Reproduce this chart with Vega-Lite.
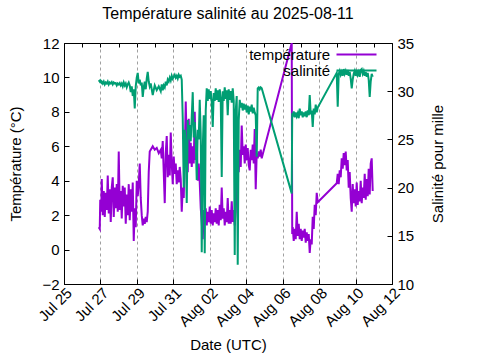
{
"$schema": "https://vega.github.io/schema/vega-lite/v6.json",
"width": 328, "height": 241,
"autosize": "none",
"padding": {"left": 64, "top": 43, "right": 88, "bottom": 76},
"background": "white",
"title": {"text": "Température salinité au 2025-08-11", "font": "Liberation Sans", "fontSize": 16, "fontWeight": "normal", "color": "black", "anchor": "middle", "offset": 14},
"config": {
  "view": {"stroke": "black", "strokeWidth": 1},
  "font": "Liberation Sans",
  "axis": {"labelFont": "Liberation Sans", "labelFontSize": 15, "titleFont": "Liberation Sans", "titleFontSize": 15, "titleFontWeight": "normal", "labelColor": "black", "titleColor": "black", "tickColor": "black", "domainColor": "black", "grid": false},
  "legend": {"labelFont": "Liberation Sans", "labelFontSize": 15, "labelColor": "black"}
},
"data": {"values": [
{"t":"2025-07-26T21:46","temp":1.3,"sal":31.15},
{"t":"2025-07-26T23:05","temp":1.2,"sal":31.0},
{"t":"2025-07-26T23:44","temp":2.9,"sal":31.1},
{"t":"2025-07-27T01:03","temp":2.2,"sal":30.9},
{"t":"2025-07-27T01:43","temp":4.1,"sal":31.0},
{"t":"2025-07-27T03:02","temp":2.0,"sal":30.8},
{"t":"2025-07-27T04:21","temp":3.4,"sal":31.0},
{"t":"2025-07-27T05:40","temp":1.9,"sal":30.7},
{"t":"2025-07-27T06:59","temp":3.3,"sal":30.9},
{"t":"2025-07-27T08:18","temp":2.3,"sal":30.8},
{"t":"2025-07-27T09:37","temp":4.3,"sal":31.0},
{"t":"2025-07-27T10:56","temp":2.1,"sal":30.7},
{"t":"2025-07-27T12:15","temp":3.5,"sal":30.9},
{"t":"2025-07-27T13:34","temp":1.6,"sal":30.8},
{"t":"2025-07-27T14:53","temp":3.6,"sal":30.95},
{"t":"2025-07-27T16:12","temp":4.2,"sal":30.7},
{"t":"2025-07-27T17:31","temp":1.9,"sal":30.9},
{"t":"2025-07-27T18:50","temp":3.6,"sal":30.8},
{"t":"2025-07-27T20:09","temp":2.4,"sal":30.85},
{"t":"2025-07-27T21:28","temp":3.8,"sal":30.6},
{"t":"2025-07-27T22:47","temp":2.2,"sal":30.8},
{"t":"2025-07-28T00:06","temp":5.7,"sal":30.7},
{"t":"2025-07-28T01:25","temp":2.3,"sal":30.85},
{"t":"2025-07-28T02:44","temp":3.4,"sal":30.6},
{"t":"2025-07-28T04:03","temp":1.8,"sal":30.8},
{"t":"2025-07-28T05:22","temp":3.7,"sal":30.5},
{"t":"2025-07-28T06:41","temp":2.5,"sal":30.9},
{"t":"2025-07-28T08:00","temp":3.6,"sal":30.6},
{"t":"2025-07-28T09:19","temp":1.5,"sal":30.8},
{"t":"2025-07-28T10:38","temp":3.2,"sal":30.4},
{"t":"2025-07-28T11:57","temp":2.0,"sal":30.7},
{"t":"2025-07-28T13:16","temp":3.8,"sal":30.9},
{"t":"2025-07-28T14:35","temp":1.7,"sal":30.6},
{"t":"2025-07-28T15:54","temp":3.5,"sal":29.9},
{"t":"2025-07-28T17:13","temp":2.2,"sal":30.5},
{"t":"2025-07-28T18:32","temp":3.9,"sal":29.5},
{"t":"2025-07-28T19:51","temp":0.5,"sal":30.2},
{"t":"2025-07-28T21:10","temp":2.4,"sal":28.2},
{"t":"2025-07-28T22:29","temp":1.3,"sal":30.5},
{"t":"2025-07-28T23:48","temp":4.0,"sal":31.4},
{"t":"2025-07-29T01:07","temp":3.1,"sal":31.9},
{"t":"2025-07-29T02:26","temp":3.8,"sal":30.8},
{"t":"2025-07-29T03:45","temp":5.0,"sal":31.2},
{"t":"2025-07-29T05:04","temp":3.0,"sal":30.6},
{"t":"2025-07-29T06:23","temp":2.0,"sal":30.9},
{"t":"2025-07-29T07:42","temp":1.4,"sal":29.4},
{"t":"2025-07-29T09:01","temp":1.8,"sal":30.4},
{"t":"2025-07-29T10:20","temp":1.5,"sal":31.0},
{"t":"2025-07-29T11:39","temp":1.9,"sal":30.2},
{"t":"2025-07-29T12:58","temp":1.6,"sal":31.3},
{"t":"2025-07-29T14:17","temp":2.2,"sal":32.0},
{"t":"2025-07-29T15:36","temp":4.5,"sal":31.0},
{"t":"2025-07-29T16:55","temp":5.7,"sal":30.5},
{"t":"2025-07-29T18:14","temp":5.8,"sal":30.8},
{"t":"2025-07-29T20:52","temp":6.0,"sal":29.6},
{"t":"2025-07-29T23:30","temp":5.8,"sal":30.6},
{"t":"2025-07-30T02:08","temp":5.9,"sal":30.1},
{"t":"2025-07-30T04:47","temp":5.6,"sal":30.5},
{"t":"2025-07-30T07:25","temp":5.8,"sal":30.0},
{"t":"2025-07-30T08:44","temp":5.3,"sal":30.7},
{"t":"2025-07-30T10:03","temp":6.3,"sal":30.1},
{"t":"2025-07-30T11:22","temp":4.5,"sal":30.6},
{"t":"2025-07-30T12:41","temp":2.7,"sal":30.4},
{"t":"2025-07-30T14:00","temp":5.6,"sal":31.0},
{"t":"2025-07-30T15:19","temp":6.6,"sal":30.6},
{"t":"2025-07-30T16:38","temp":4.2,"sal":31.2},
{"t":"2025-07-30T17:57","temp":5.5,"sal":31.0},
{"t":"2025-07-30T19:16","temp":4.3,"sal":31.4},
{"t":"2025-07-30T20:35","temp":6.8,"sal":31.1},
{"t":"2025-07-30T21:54","temp":5.0,"sal":31.6},
{"t":"2025-07-30T23:13","temp":3.8,"sal":31.3},
{"t":"2025-07-31T00:32","temp":5.4,"sal":31.5},
{"t":"2025-07-31T01:51","temp":4.4,"sal":31.7},
{"t":"2025-07-31T03:10","temp":5.0,"sal":31.4},
{"t":"2025-07-31T04:29","temp":3.8,"sal":31.6},
{"t":"2025-07-31T05:48","temp":4.6,"sal":31.3},
{"t":"2025-07-31T07:07","temp":3.9,"sal":31.7},
{"t":"2025-07-31T08:26","temp":4.8,"sal":31.5},
{"t":"2025-07-31T09:45","temp":4.1,"sal":31.6},
{"t":"2025-07-31T11:04","temp":2.2,"sal":31.2},
{"t":"2025-07-31T12:23","temp":3.6,"sal":27.2},
{"t":"2025-07-31T13:42","temp":3.0,"sal":20.0},
{"t":"2025-07-31T15:01","temp":5.5,"sal":26.0},
{"t":"2025-07-31T16:20","temp":8.6,"sal":24.5},
{"t":"2025-07-31T17:39","temp":6.0,"sal":18.4},
{"t":"2025-07-31T18:58","temp":4.5,"sal":27.0},
{"t":"2025-07-31T20:17","temp":7.6,"sal":25.0},
{"t":"2025-07-31T21:36","temp":5.0,"sal":26.5},
{"t":"2025-07-31T22:55","temp":6.2,"sal":24.8},
{"t":"2025-08-01T00:14","temp":4.8,"sal":27.3},
{"t":"2025-08-01T01:33","temp":6.0,"sal":29.9},
{"t":"2025-08-01T02:52","temp":5.0,"sal":25.2},
{"t":"2025-08-01T04:11","temp":8.0,"sal":26.8},
{"t":"2025-08-01T05:30","temp":5.2,"sal":24.9},
{"t":"2025-08-01T06:49","temp":6.3,"sal":20.8},
{"t":"2025-08-01T08:08","temp":4.0,"sal":26.0},
{"t":"2025-08-01T09:27","temp":5.0,"sal":25.0},
{"t":"2025-08-01T10:46","temp":3.9,"sal":29.1},
{"t":"2025-08-01T12:05","temp":2.4,"sal":25.5},
{"t":"2025-08-01T13:24","temp":1.6,"sal":13.3},
{"t":"2025-08-01T14:43","temp":0.6,"sal":24.0},
{"t":"2025-08-01T16:02","temp":2.3,"sal":27.5},
{"t":"2025-08-01T17:21","temp":1.5,"sal":13.2},
{"t":"2025-08-01T18:40","temp":2.4,"sal":28.0},
{"t":"2025-08-01T19:59","temp":1.4,"sal":30.3},
{"t":"2025-08-01T21:18","temp":2.2,"sal":29.0},
{"t":"2025-08-01T22:37","temp":1.6,"sal":30.2},
{"t":"2025-08-01T23:56","temp":2.5,"sal":29.2},
{"t":"2025-08-02T01:15","temp":1.5,"sal":30.0},
{"t":"2025-08-02T02:34","temp":2.3,"sal":28.9},
{"t":"2025-08-02T03:53","temp":1.4,"sal":26.3},
{"t":"2025-08-02T05:12","temp":2.1,"sal":29.8},
{"t":"2025-08-02T06:31","temp":1.6,"sal":29.0},
{"t":"2025-08-02T07:50","temp":2.4,"sal":30.3},
{"t":"2025-08-02T09:09","temp":1.5,"sal":29.1},
{"t":"2025-08-02T10:28","temp":2.3,"sal":30.1},
{"t":"2025-08-02T11:47","temp":1.4,"sal":28.9},
{"t":"2025-08-02T13:06","temp":2.6,"sal":30.2},
{"t":"2025-08-02T14:25","temp":1.7,"sal":29.3},
{"t":"2025-08-02T15:44","temp":3.6,"sal":21.1},
{"t":"2025-08-02T17:03","temp":1.8,"sal":30.0},
{"t":"2025-08-02T18:22","temp":2.4,"sal":29.0},
{"t":"2025-08-02T19:41","temp":1.4,"sal":30.4},
{"t":"2025-08-02T21:00","temp":2.2,"sal":29.2},
{"t":"2025-08-02T22:19","temp":1.6,"sal":30.1},
{"t":"2025-08-02T23:38","temp":3.0,"sal":27.5},
{"t":"2025-08-03T00:57","temp":1.5,"sal":30.2},
{"t":"2025-08-03T02:16","temp":2.3,"sal":29.1},
{"t":"2025-08-03T03:35","temp":1.5,"sal":30.0},
{"t":"2025-08-03T04:54","temp":2.8,"sal":28.8},
{"t":"2025-08-03T06:13","temp":1.6,"sal":30.3},
{"t":"2025-08-03T07:32","temp":2.3,"sal":29.0},
{"t":"2025-08-03T08:51","temp":1.4,"sal":13.0},
{"t":"2025-08-03T10:10","temp":2.2,"sal":28.0},
{"t":"2025-08-03T11:29","temp":3.8,"sal":29.5},
{"t":"2025-08-03T12:48","temp":5.4,"sal":12.0},
{"t":"2025-08-03T14:07","temp":4.5,"sal":27.0},
{"t":"2025-08-03T15:26","temp":5.8,"sal":29.1},
{"t":"2025-08-03T16:45","temp":4.8,"sal":28.3},
{"t":"2025-08-03T18:04","temp":7.2,"sal":28.8},
{"t":"2025-08-03T19:23","temp":5.5,"sal":28.0},
{"t":"2025-08-03T20:42","temp":6.0,"sal":28.7},
{"t":"2025-08-03T22:01","temp":5.0,"sal":28.1},
{"t":"2025-08-03T23:20","temp":6.1,"sal":28.6},
{"t":"2025-08-04T00:39","temp":5.2,"sal":27.8},
{"t":"2025-08-04T01:58","temp":5.9,"sal":28.5},
{"t":"2025-08-04T03:17","temp":4.9,"sal":27.6},
{"t":"2025-08-04T04:36","temp":4.6,"sal":28.4},
{"t":"2025-08-04T05:55","temp":5.8,"sal":27.9},
{"t":"2025-08-04T07:14","temp":5.2,"sal":28.6},
{"t":"2025-08-04T08:33","temp":6.1,"sal":27.7},
{"t":"2025-08-04T09:52","temp":5.0,"sal":28.3},
{"t":"2025-08-04T11:11","temp":7.0,"sal":27.8},
{"t":"2025-08-04T12:30","temp":3.5,"sal":27.5},
{"t":"2025-08-04T13:49","temp":5.6,"sal":23.2},
{"t":"2025-08-04T15:08","temp":5.3,"sal":30.3},
{"t":"2025-08-04T16:27","temp":5.7,"sal":30.4},
{"t":"2025-08-04T17:46","temp":5.4,"sal":30.2},
{"t":"2025-08-04T19:05","temp":5.8,"sal":30.4},
{"t":"2025-08-04T20:24","temp":5.3,"sal":30.3},
{"t":"2025-08-06T11:55","temp":12.0,"sal":19.4},
{"t":"2025-08-06T12:35","temp":0.9,"sal":27.7},
{"t":"2025-08-06T13:15","temp":1.3,"sal":27.5},
{"t":"2025-08-06T14:34","temp":0.5,"sal":27.9},
{"t":"2025-08-06T15:53","temp":1.2,"sal":27.3},
{"t":"2025-08-06T17:12","temp":0.6,"sal":27.8},
{"t":"2025-08-06T18:31","temp":2.2,"sal":27.4},
{"t":"2025-08-06T19:50","temp":0.8,"sal":27.7},
{"t":"2025-08-06T21:09","temp":1.5,"sal":27.2},
{"t":"2025-08-06T22:28","temp":0.6,"sal":28.2},
{"t":"2025-08-06T23:47","temp":1.2,"sal":27.5},
{"t":"2025-08-07T01:06","temp":0.5,"sal":27.9},
{"t":"2025-08-07T02:25","temp":1.1,"sal":27.3},
{"t":"2025-08-07T03:44","temp":0.7,"sal":27.8},
{"t":"2025-08-07T05:03","temp":1.2,"sal":27.4},
{"t":"2025-08-07T06:22","temp":0.4,"sal":27.9},
{"t":"2025-08-07T07:41","temp":1.0,"sal":27.3},
{"t":"2025-08-07T09:00","temp":0.5,"sal":28.0},
{"t":"2025-08-07T10:19","temp":0.9,"sal":27.5},
{"t":"2025-08-07T11:38","temp":-0.2,"sal":29.6},
{"t":"2025-08-07T12:57","temp":0.6,"sal":27.6},
{"t":"2025-08-07T14:16","temp":0.3,"sal":28.0},
{"t":"2025-08-07T15:35","temp":1.9,"sal":26.3},
{"t":"2025-08-07T16:54","temp":1.2,"sal":28.2},
{"t":"2025-08-07T18:13","temp":2.6,"sal":27.6},
{"t":"2025-08-07T19:32","temp":2.0,"sal":28.6},
{"t":"2025-08-07T20:51","temp":3.3,"sal":27.8},
{"t":"2025-08-07T22:10","temp":2.75,"sal":28.3},
{"t":"2025-08-08T23:11","temp":3.85,"sal":31.9},
{"t":"2025-08-09T00:30","temp":4.4,"sal":28.4},
{"t":"2025-08-09T01:49","temp":3.8,"sal":31.8},
{"t":"2025-08-09T03:08","temp":4.6,"sal":32.1},
{"t":"2025-08-09T04:27","temp":4.2,"sal":31.7},
{"t":"2025-08-09T05:46","temp":5.3,"sal":32.0},
{"t":"2025-08-09T07:05","temp":4.7,"sal":31.6},
{"t":"2025-08-09T08:24","temp":5.6,"sal":32.3},
{"t":"2025-08-09T09:43","temp":4.9,"sal":31.8},
{"t":"2025-08-09T11:02","temp":5.7,"sal":32.1},
{"t":"2025-08-09T12:21","temp":4.6,"sal":31.7},
{"t":"2025-08-09T13:40","temp":5.2,"sal":32.2},
{"t":"2025-08-09T14:59","temp":3.6,"sal":31.6},
{"t":"2025-08-09T16:18","temp":4.5,"sal":32.0},
{"t":"2025-08-09T17:37","temp":3.0,"sal":31.3},
{"t":"2025-08-09T18:56","temp":2.2,"sal":30.3},
{"t":"2025-08-09T20:15","temp":3.8,"sal":31.2},
{"t":"2025-08-09T21:34","temp":2.7,"sal":31.8},
{"t":"2025-08-09T22:53","temp":3.5,"sal":32.1},
{"t":"2025-08-10T00:12","temp":2.5,"sal":31.6},
{"t":"2025-08-10T01:31","temp":3.9,"sal":32.2},
{"t":"2025-08-10T02:50","temp":2.6,"sal":31.7},
{"t":"2025-08-10T04:09","temp":3.4,"sal":32.0},
{"t":"2025-08-10T05:28","temp":2.8,"sal":31.5},
{"t":"2025-08-10T06:47","temp":4.0,"sal":32.2},
{"t":"2025-08-10T08:06","temp":2.7,"sal":32.3},
{"t":"2025-08-10T09:25","temp":3.6,"sal":31.8},
{"t":"2025-08-10T10:44","temp":3.0,"sal":32.1},
{"t":"2025-08-10T12:03","temp":4.4,"sal":31.6},
{"t":"2025-08-10T13:22","temp":2.9,"sal":32.0},
{"t":"2025-08-10T14:41","temp":4.1,"sal":31.5},
{"t":"2025-08-10T16:00","temp":3.1,"sal":31.9},
{"t":"2025-08-10T17:19","temp":4.7,"sal":31.2},
{"t":"2025-08-10T18:38","temp":3.2,"sal":29.4},
{"t":"2025-08-10T19:57","temp":5.0,"sal":31.0},
{"t":"2025-08-10T21:16","temp":5.3,"sal":31.8},
{"t":"2025-08-10T22:35","temp":3.4,"sal":31.5}
]},
"layer": [
  {
    "mark": {"type": "line", "strokeWidth": 2, "clip": true, "interpolate": "linear"},
    "encoding": {
      "x": {"field": "t", "type": "temporal",
        "scale": {"domain": [{"year": 2025, "month": 7, "date": 25}, {"year": 2025, "month": 8, "date": 12}]},
        "axis": {"orient": "bottom", "title": "Date (UTC)", "format": "%b %d", "labelAngle": -45, "labelOverlap": false, "labelPadding": 6, "tickSize": -5, "titlePadding": 8,
          "values": [{"year":2025,"month":7,"date":25},{"year":2025,"month":7,"date":27},{"year":2025,"month":7,"date":29},{"year":2025,"month":7,"date":31},{"year":2025,"month":8,"date":2},{"year":2025,"month":8,"date":4},{"year":2025,"month":8,"date":6},{"year":2025,"month":8,"date":8},{"year":2025,"month":8,"date":10},{"year":2025,"month":8,"date":12}],
          "grid": true, "gridColor": "#a0a0a0", "gridDash": [3, 3], "gridWidth": 1}},
      "y": {"field": "temp", "type": "quantitative",
        "scale": {"domain": [-2, 12], "nice": false, "zero": false},
        "axis": {"orient": "left", "title": "Température (°C)", "values": [-2, 0, 2, 4, 6, 8, 10, 12], "tickSize": -5, "labelPadding": 10, "titlePadding": 18}},
      "color": {"datum": "température", "type": "nominal",
        "scale": {"domain": ["température", "salinité"], "range": ["#9400d3", "#009e73"]},
        "legend": {"orient": "none", "legendX": 285, "legendY": 4, "title": null, "symbolType": "M-4,0H4", "symbolSize": 100, "symbolStrokeWidth": 2, "labelAlign": "right", "labelOffset": -34, "rowPadding": 0, "padding": 0, "labelLimit": 300}}
    }
  },
  {
    "mark": {"type": "line", "strokeWidth": 2, "clip": true, "interpolate": "linear"},
    "encoding": {
      "x": {"field": "t", "type": "temporal",
        "axis": {"orient": "top", "title": null, "labels": false, "domain": false, "grid": false, "tickSize": -4,
          "values": [{"year":2025,"month":7,"date":25},{"year":2025,"month":7,"date":26},{"year":2025,"month":7,"date":27},{"year":2025,"month":7,"date":28},{"year":2025,"month":7,"date":29},{"year":2025,"month":7,"date":30},{"year":2025,"month":7,"date":31},{"year":2025,"month":8,"date":1},{"year":2025,"month":8,"date":2},{"year":2025,"month":8,"date":3},{"year":2025,"month":8,"date":4},{"year":2025,"month":8,"date":5},{"year":2025,"month":8,"date":6},{"year":2025,"month":8,"date":7},{"year":2025,"month":8,"date":8},{"year":2025,"month":8,"date":9},{"year":2025,"month":8,"date":10},{"year":2025,"month":8,"date":11},{"year":2025,"month":8,"date":12}]}},
      "y": {"field": "sal", "type": "quantitative",
        "scale": {"domain": [10, 35], "nice": false, "zero": false},
        "axis": {"orient": "right", "title": "Salinité pour mille", "titleAngle": 270, "values": [10, 15, 20, 25, 30, 35], "tickSize": -5, "labelPadding": 10, "titlePadding": 32}},
      "color": {"datum": "salinité", "type": "nominal"}
    }
  }
],
"resolve": {"scale": {"y": "independent"}, "axis": {"x": "independent"}}
}
